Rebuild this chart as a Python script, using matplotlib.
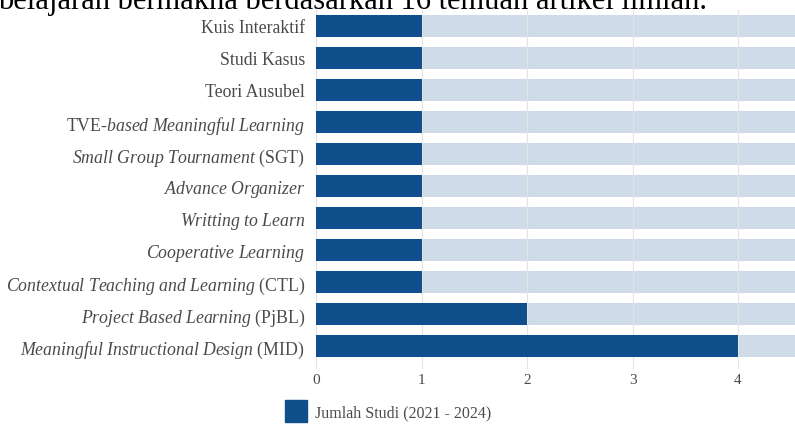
import matplotlib
matplotlib.use("Agg")
import matplotlib.pyplot as plt
from matplotlib.patches import Patch

plt.rcParams['font.family'] = ['Liberation Serif', 'DejaVu Serif']
plt.rcParams['mathtext.fontset'] = 'custom'
plt.rcParams['mathtext.rm'] = 'Liberation Serif'
plt.rcParams['mathtext.it'] = 'Liberation Serif:italic'

# labels: mathtext so italic and upright parts can be mixed
labels = [
    r"Kuis Interaktif",
    r"Studi Kasus",
    r"Teori Ausubel",
    r"$\mathrm{TVE}$-$\mathit{based\ Meaningful\ Learning}$",
    r"$\mathit{Small\ Group\ Tournament}\ \mathrm{(SGT)}$",
    r"$\mathit{Advance\ Organizer}$",
    r"$\mathit{Writting\ to\ Learn}$",
    r"$\mathit{Cooperative\ Learning}$",
    r"$\mathit{Contextual\ Teaching\ and\ Learning}\ \mathrm{(CTL)}$",
    r"$\mathit{Project\ Based\ Learning}\ \mathrm{(PjBL)}$",
    r"$\mathit{Meaningful\ Instructional\ Design}\ \mathrm{(MID)}$",
]
values = [1, 1, 1, 1, 1, 1, 1, 1, 1, 2, 4]
legend_label = "Jumlah Studi (2021 - 2024)"
xticks = [0, 1, 2, 3, 4]
xmax = 4.54

dark = "#0e4f8c"
light = "#cfdbe8"
txt = "#4a4a4a"

W, H = 795, 427
fig = plt.figure(figsize=(W / 100, H / 100), dpi=100)
ax = fig.add_axes([316 / W, 1 - 370 / H, 1 - 316 / W, (370 - 11) / H])

ypos = list(range(len(labels)))[::-1]
ax.barh(ypos, [xmax] * len(values), height=0.66, color=light, zorder=1)
ax.barh(ypos, values, height=0.66, color=dark, zorder=3)

ax.set_xlim(0, xmax)
ax.set_ylim(-0.72, 10.5)
ax.set_yticks(ypos)
ax.set_yticklabels(labels, fontsize=12.8, color=txt)
ax.set_xticks(xticks)
ax.set_xticklabels([str(t) for t in xticks], fontsize=11, color=txt)
ax.tick_params(length=0, pad=3)
ax.tick_params(axis='y', pad=8)
ax.grid(axis='x', color="#e4e4e4", linewidth=0.8, zorder=2)
ax.grid(axis='y', visible=False)
for s in ax.spines.values():
    s.set_visible(False)

fig.legend(handles=[Patch(facecolor=dark, edgecolor=dark, label=legend_label)],
           loc='center left', bbox_to_anchor=(285 / W, 1 - 412 / H), frameon=False,
           borderpad=0, borderaxespad=0,
           fontsize=11.5, handlelength=1.4, handleheight=1.7, handletextpad=0.45,
           labelcolor=txt)

fig.text(-0.002, 1 - 9 / H, "belajaran bermakna berdasarkan 16 temuan artikel ilmiah.",
         fontsize=22, color="black", va='baseline', ha='left')

fig.savefig("out.png", dpi=100)
